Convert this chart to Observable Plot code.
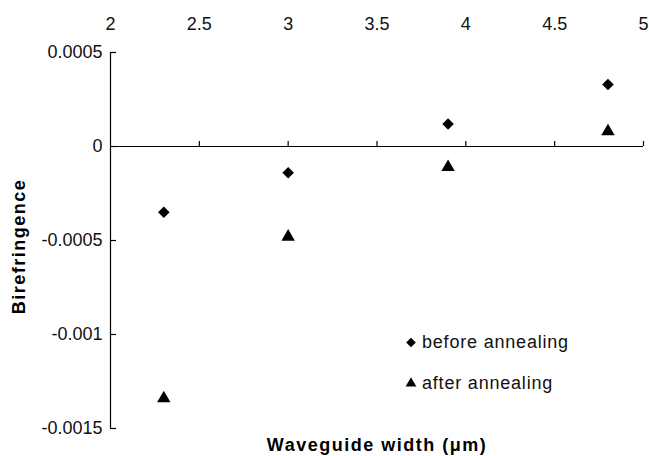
<!DOCTYPE html>
<html>
<head>
<meta charset="utf-8">
<script src="https://cdn.jsdelivr.net/npm/d3@7"></script>
<script src="https://cdn.jsdelivr.net/npm/@observablehq/plot@0.6"></script>
<style>
  html, body { margin: 0; padding: 0; background: white; }
  #wrap { position: relative; width: 649px; height: 456px; }
  #wrap svg.plot text { letter-spacing: 0.5px; }
  #legend { position: absolute; left: 405px; top: 328px; font-family: "Liberation Sans", Arial, sans-serif; font-size: 18px; letter-spacing: 0.8px; color: #111; }
  #legend .row { display: flex; align-items: center; height: 28px; margin-bottom: 13px; }
  #legend svg { margin-right: 5px; }
</style>
</head>
<body>
<div id="wrap"></div>
<script>
const xValues = [2.3, 3, 3.9, 4.8];
const beforeAnnealing = [-0.00035, -0.00014, 0.00012, 0.00033];
const afterAnnealing = [-0.00134, -0.00048, -0.00011, 0.00008];
const seriesNames = ["before annealing", "after annealing"];
const xTicks = [2, 2.5, 3, 3.5, 4, 4.5, 5];
const yTicks = [-0.0015, -0.001, -0.0005, 0, 0.0005];
const xDomain = [2, 5];
const yDomain = [-0.0015, 0.0005];

const beforeData = xValues.map((x, i) => ({x, y: beforeAnnealing[i], s: seriesNames[0]}));
const afterData = xValues.map((x, i) => ({x, y: afterAnnealing[i], s: seriesNames[1]}));

const chart = Plot.plot({
  width: 649,
  height: 456,
  marginLeft: 110,
  marginRight: 6,
  marginTop: 52,
  marginBottom: 28,
  x: {domain: xDomain},
  y: {domain: yDomain},
  style: {fontFamily: "Liberation Sans, Arial, sans-serif", fontSize: "18px", color: "#111", background: "white"},
  marks: [
    Plot.axisX(xTicks, {anchor: "top", tickSize: 0, tickPadding: 23, label: null, tickFormat: d => String(d)}),
    Plot.axisY(yTicks, {anchor: "left", tickSize: 0, tickPadding: 8, label: null, tickFormat: d => String(d)}),
    Plot.ruleY([0], {stroke: "black", strokeWidth: 1.2}),
    Plot.ruleX([xDomain[0]], {stroke: "black", strokeWidth: 1.2}),
    Plot.ruleX(xTicks.slice(1), {x: d => d, y1: 0, y2: 0, insetTop: -5, stroke: "black", strokeWidth: 1.2}),
    Plot.ruleY(yTicks, {y: d => d, x1: xDomain[0], x2: xDomain[0], insetRight: -6, stroke: "black", strokeWidth: 1.2}),
    Plot.dot(beforeData, {x: "x", y: "y", symbol: "diamond2", r: 5.2, fill: "black", stroke: "none"}),
    Plot.dot(afterData, {x: "x", y: "y", symbol: "triangle", r: 5, fill: "black", stroke: "none"}),
    Plot.text(["Waveguide width (μm)"], {frameAnchor: "bottom", dy: 22, fontWeight: "bold", fontSize: 18, fill: "black", style: "letter-spacing:1.8px"}),
    Plot.text(["Birefringence"], {frameAnchor: "left", textAnchor: "middle", rotate: -90, dx: -91, dy: 6, fontWeight: "bold", fontSize: 18, fill: "black"})
  ]
});
document.getElementById("wrap").appendChild(chart);
// wider spacing for bold titles
d3.select(chart).selectAll("text").filter(function() { return this.getAttribute("font-weight") === "bold" || (this.parentNode && this.parentNode.getAttribute("font-weight") === "bold"); }).style("letter-spacing", "1.5px");

const legend = d3.select("#wrap").append("div").attr("id", "legend");
const legendSymbols = [d3.symbolDiamond2, d3.symbolTriangle];
const legendSizes = [60, 50];
seriesNames.forEach((name, i) => {
  const row = legend.append("div").attr("class", "row");
  const svg = row.append("svg").attr("width", 12).attr("height", 12);
  svg.append("path")
    .attr("transform", "translate(6,6.5)")
    .attr("d", d3.symbol(legendSymbols[i], legendSizes[i])())
    .attr("fill", "black");
  row.append("span").text(name);
});
</script>
</body>
</html>
